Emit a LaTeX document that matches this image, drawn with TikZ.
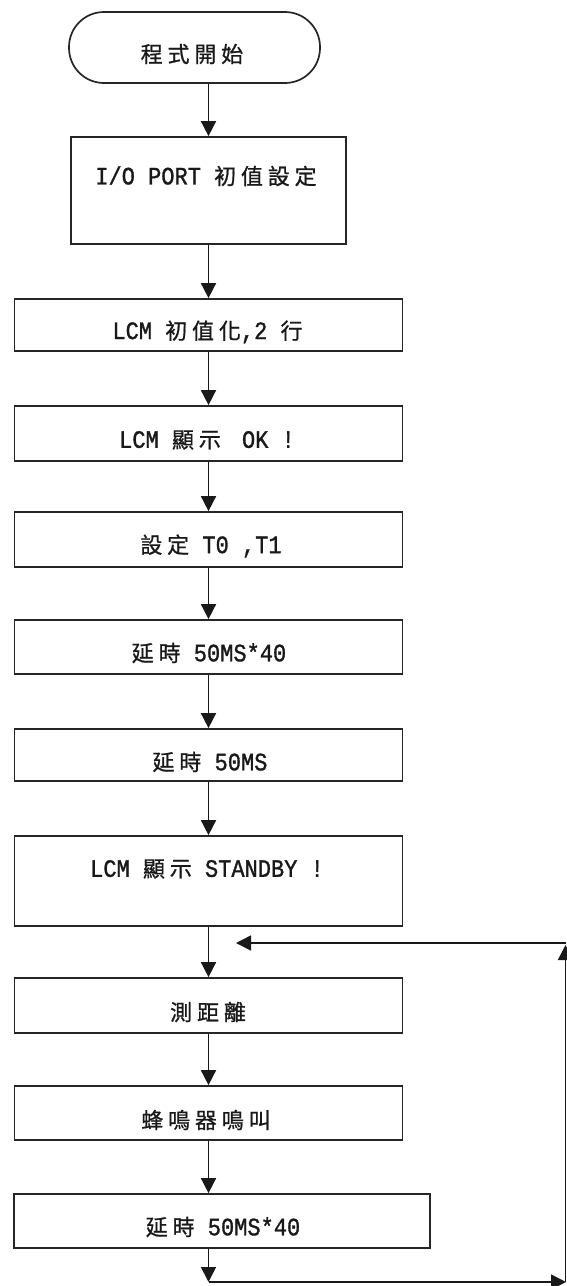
\documentclass[tikz,border=0pt]{standalone}
\usepackage{fontspec}
\setmainfont{Liberation Mono}[FakeStretch=0.88,FakeBold=1.2]
\newfontfamily\zhfont{Noto Sans CJK TC}[LetterSpace=22,FakeBold=0.8]
\usetikzlibrary{arrows.meta}
\newcommand\zh[1]{{\zhfont\fontsize{22}{24}\selectfont #1}}
\begin{document}
\begin{tikzpicture}[x=1pt,y=-1pt,
  boxstyle/.style={draw=black!85, line width=1.7pt, rectangle, inner sep=0pt},
  termstyle/.style={draw=black!85, line width=1.7pt, rectangle, rounded corners=35pt, inner sep=0pt, minimum width=251pt, minimum height=71pt},
  txt/.style={inner sep=0pt, font=\fontsize{25}{27}\selectfont, text=black!90},
  arr/.style={draw=black!90, line width=1.6pt, -{Triangle[width=15pt,length=15pt]}},
  ln/.style={draw=black!90, line width=1.6pt}]
\useasboundingbox (0,0) rectangle (566,1286);

\node[termstyle] (term) at (194.5,47.5) {};
\node[boxstyle, minimum width=275pt, minimum height=107pt] (b1) at (208.5,190.5) {};
\node[boxstyle, minimum width=388pt, minimum height=52pt] (b2) at (208.5,325) {};
\node[boxstyle, minimum width=388pt, minimum height=55pt] (b3) at (208.5,433.5) {};
\node[boxstyle, minimum width=388pt, minimum height=55pt] (b4) at (208.5,539.5) {};
\node[boxstyle, minimum width=388pt, minimum height=54pt] (b5) at (208.5,647) {};
\node[boxstyle, minimum width=388pt, minimum height=52pt] (b6) at (208.5,755) {};
\node[boxstyle, minimum width=388pt, minimum height=90pt] (b7) at (208.5,881) {};
\node[boxstyle, minimum width=388pt, minimum height=55pt] (b8) at (208.5,1005.5) {};
\node[boxstyle, minimum width=388pt, minimum height=54pt] (b9) at (208.5,1113) {};
\node[boxstyle, minimum width=416pt, minimum height=54pt] (b10) at (222,1221) {};

\node[txt] (t0) at (192,54) {\zh{程式開始}};
\node[txt] (t1) at (206,176) {I/O PORT \zh{初值設定}};
\node[txt] (t2) at (207.5,332) {LCM \zh{初值化},2 \zh{行}};
\node[txt] (t3) at (207,440) {LCM \zh{顯示}\hspace{8pt} OK !};
\node[txt] (t4) at (211,546) {\zh{設定} T0 ,T1};
\node[txt] (t5) at (209,653) {\zh{延時} 50MS*40};
\node[txt] (t6) at (210,762) {\zh{延時} 50MS};
\node[txt] (t7) at (207,869) {LCM \zh{顯示} STANDBY !};
\node[txt] (t8) at (208,1012) {\zh{測距離}};
\node[txt] (t9) at (206,1120) {\zh{蜂鳴器鳴叫}};
\node[txt] (t10) at (223,1227) {\zh{延時} 50MS*40};

\coordinate (bl) at (208.5,1282);
\coordinate (br) at (566,1282);
\coordinate (tr) at (565.5,945);
\coordinate (le) at (236,943);

\draw[arr] (b1.north |- term.south) -- (b1.north);
\draw[arr] (b1.south) -- (b2.north);
\draw[arr] (b2.south) -- (b3.north);
\draw[arr] (b3.south) -- (b4.north);
\draw[arr] (b4.south) -- (b5.north);
\draw[arr] (b5.south) -- (b6.north);
\draw[arr] (b6.south) -- (b7.north);
\draw[arr] (b7.south) -- (b8.north);
\draw[arr] (b8.south) -- (b9.north);
\draw[arr] (b9.south) -- (b9.south |- b10.north);
\draw[arr] (b9.south |- b10.south) -- (bl);
\draw[arr] (bl) -- (br);
\draw[arr] (tr |- br) -- (tr);
\draw[arr] (tr |- le) -- (le);
\end{tikzpicture}
\end{document}
